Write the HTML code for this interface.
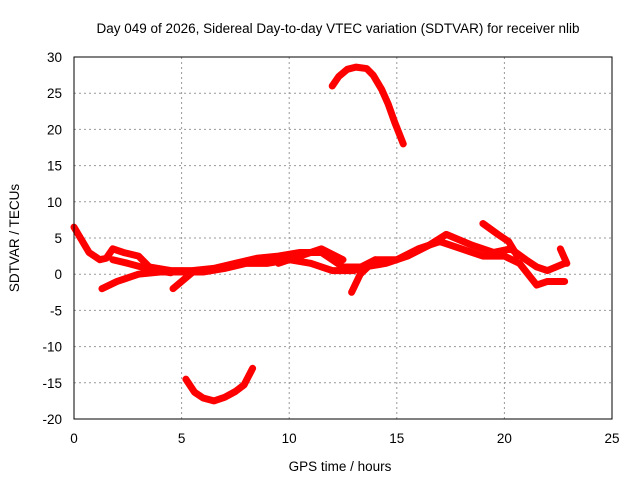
<!DOCTYPE html>
<html><head><meta charset="utf-8"><style>
body{margin:0;background:#fff}
svg{display:block;font-family:"Liberation Sans",sans-serif}
</style></head><body>
<svg id="c" width="640" height="480">
<text x="338" y="33" font-size="13.5" text-anchor="middle">Day 049 of 2026, Sidereal Day-to-day VTEC variation (SDTVAR) for receiver nlib</text>
<text x="340" y="471" font-size="13.5" text-anchor="middle">GPS time / hours</text>
<text transform="translate(19,238) rotate(-90)" font-size="13.5" text-anchor="middle">SDTVAR / TECUs</text>
<g id="grid"></g><g id="ticks"></g><g id="series"></g>
<rect x="74" y="57" width="538" height="362" fill="none" stroke="#000" stroke-width="1"/>
</svg>
<script>
const xTicks=[0,5,10,15,20,25];
const yTicks=[30,25,20,15,10,5,0,-5,-10,-15,-20];
const track1=[[0,6.5],[0.3,5],[0.7,3],[1.2,2],[1.5,2.2],[1.8,3.5],[2.3,3],[3,2.5],[3.5,1],[4.5,0.5],[5.5,0.5],[6.5,0.8],[7.5,1.5],[8.5,2.2],[9.5,2.5],[10.5,3],[11.5,3],[12.5,1],[13.5,1],[14.5,1.5],[15.5,2.5],[16.5,4],[17.3,5.5],[18.5,4],[19.5,3],[20.3,3.5],[21,2],[21.5,1],[22,0.5],[22.8,1.5]];
const track2=[[1.3,-2],[2,-1],[2.5,-0.5],[3,0],[4,0.3],[5,0.3],[6,0.3],[7,0.8],[8,1.5],[9,1.5],[10,2],[11,1.5],[12,0.5],[13,0.5],[14,2],[15,2],[16,3.5],[17,4.5],[18,3.5],[19,2.5],[20,2.5],[20.7,1.5],[21.5,-1.5],[22,-1],[22.8,-1]];
const track3=[[1.8,2],[2.5,1.5],[3.5,0.7],[4.5,0.2]];
const track4=[[4.6,-2],[5.2,-0.5],[5.6,0.5]];
const track5=[[12.9,-2.5],[13.3,0],[14,2]];
const track6=[[19,7],[19.7,5.5],[20.2,4.5],[20.6,2.5]];
const track7=[[22.6,3.5],[22.9,1.5]];
const track8=[[9.5,1.5],[10.5,2.5],[11.5,3.5],[12.5,2]];
const track9=[[12,26],[12.3,27.3],[12.7,28.3],[13.1,28.6],[13.6,28.4],[13.9,27.5],[14.3,25.5],[14.6,23.5],[14.9,21],[15.3,18]];
const track10=[[5.2,-14.5],[5.6,-16.3],[6.0,-17.1],[6.5,-17.5],[7.0,-17],[7.5,-16.2],[7.9,-15.3],[8.3,-13]];
const tracks=[track1,track2,track3,track4,track5,track6,track7,track8,track9,track10];
const X=h=>74+h*538/25, Y=v=>419-(v+20)*362/50;
const NS="http://www.w3.org/2000/svg";
const grid=document.getElementById('grid'),ticks=document.getElementById('ticks'),ser=document.getElementById('series');
function mk(tag,attrs,parent){const e=document.createElementNS(NS,tag);for(const k in attrs)e.setAttribute(k,attrs[k]);parent.appendChild(e);return e;}
xTicks.forEach(t=>{
 if(t>0&&t<25){const l=mk('line',{x1:X(t),x2:X(t),y1:57,y2:419,stroke:'#999','stroke-dasharray':'2,3'},grid);
 
 }
 const tx=mk('text',{x:X(t),y:443,'font-size':13.5,'text-anchor':'middle'},ticks);tx.textContent=t;
 
 
});
yTicks.forEach(t=>{
 if(t>-20&&t<30){const l=mk('line',{x1:74,x2:612,y1:Y(t),y2:Y(t),stroke:'#999','stroke-dasharray':'2,3'},grid);
 
 }
 const tx=mk('text',{x:62,y:Y(t)+5,'font-size':13.5,'text-anchor':'end'},ticks);tx.textContent=t;
 
 
});
tracks.forEach(tr=>{
 const p=mk('polyline',{points:tr.map(d=>X(d[0])+','+Y(d[1])).join(' '),fill:'none',stroke:'#f00','stroke-width':7,'stroke-linejoin':'round','stroke-linecap':'round'},ser);
 
 
});
</script>
</body></html>
